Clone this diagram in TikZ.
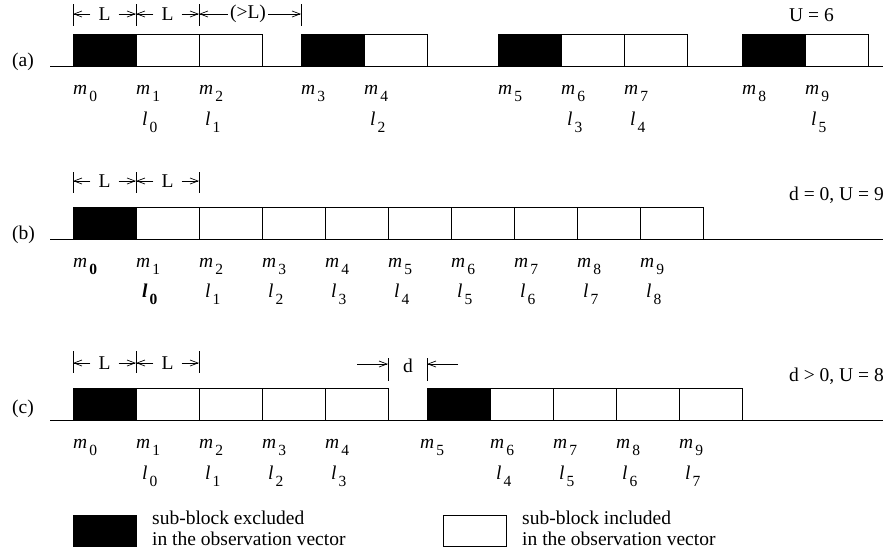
\documentclass[tikz,border=0pt]{standalone}
\usepackage{fontspec}
\setmainfont{Liberation Serif}
\usetikzlibrary{arrows.meta}
\newcommand{\ms}[2]{\textit{#1}\kern2pt\raisebox{-7pt}{\fontsize{15.5}{15.5}\selectfont #2}}
\tikzset{
  boxbase/.style={draw, minimum width=63pt, minimum height=31.5pt, inner sep=0pt, outer sep=0pt, anchor=south west, line width=0.9pt},
  blk/.style={boxbase, fill=black},
  wht/.style={boxbase, fill=white},
  lab/.style={inner sep=0pt, anchor=base west},
  dimtxt/.style={inner ysep=0pt, inner xsep=8pt},
  dimarr/.style={-{Straight Barb[length=8pt,width=6pt]}, line width=0.7pt},
  tickline/.style={line width=0.8pt},
  axis/.style={line width=0.9pt},
}
\begin{document}
\begin{tikzpicture}[x=1pt,y=-1pt,font=\fontsize{19.5}{22}\selectfont]
\useasboundingbox (0,0) rectangle (883,554);

% ---------------- row (a) ----------------
\node[anchor=west,inner sep=0pt] (la) at (12,62) {(a)};
\node[anchor=west,inner sep=0pt] (ua) at (789,15) {U = 6};
\draw[axis] (50,66) -- (883,66);
\node[blk] (a0) at (73,66) {};
\node[wht] (a1) at (136,66) {};
\node[wht] (a2) at (199,66) {};
\node[blk] (a3) at (301,66) {};
\node[wht] (a4) at (364,66) {};
\node[blk] (a5) at (498,66) {};
\node[wht] (a6) at (561,66) {};
\node[wht] (a7) at (624,66) {};
\node[blk] (a8) at (742,66) {};
\node[wht] (a9) at (805,66) {};
\foreach \x/\i in {73/0,136/1,199/2,301/3,364/4,498/5,561/6,624/7,742/8,805/9}
  \node[lab] (am\i) at (\x,94.5) {\ms{m}{\i}};
\foreach \x/\i in {142/0,205/1,370/2,567/3,630/4,811/5}
  \node[lab] (al\i) at (\x,125) {\ms{l}{\i}};
% dimensions (a)
\foreach \x/\i in {73/0,136/1,199/2,301/3}{
  \draw[tickline] (\x,4) -- (\x,26);
  \coordinate (ta\i) at (\x,14);
}
\node[dimtxt] (aL1) at (104.5,14) {L};
\node[dimtxt] (aL2) at (167.5,14) {L};
\node[dimtxt,inner xsep=2pt] (aL3) at (248,14) {(>L)};
\draw[dimarr] (aL1.west) -- (ta0);
\draw[dimarr] (aL1.east) -- (ta1);
\draw[dimarr] (aL2.west) -- (ta1);
\draw[dimarr] (aL2.east) -- (ta2);
\draw[dimarr] (aL3.west) -- (ta2);
\draw[dimarr] (aL3.east) -- (ta3);

% ---------------- row (b) ----------------
\node[anchor=west,inner sep=0pt] (lb) at (12,235) {(b)};
\node[anchor=west,inner sep=0pt] (ub) at (789,195) {d = 0, U = 9};
\draw[axis] (50,239) -- (883,239);
\node[blk] (b0) at (73,239) {};
\foreach \i in {1,...,9}
  \node[wht] (b\i) at ({73+63*\i},239) {};
\node[lab] (bm0) at (73,267.5) {\ms{m}{\bfseries 0}};
\foreach \i in {1,...,9}
  \node[lab] (bm\i) at ({73+63*\i},267.5) {\ms{m}{\i}};
\node[lab] (bl0) at (142,297.5) {\bfseries\ms{l}{0}};
\foreach \i in {1,...,8}
  \node[lab] (bl\i) at ({142+63*\i},297.5) {\ms{l}{\i}};
% dimensions (b)
\foreach \x/\i in {73/0,136/1,199/2}{
  \draw[tickline] (\x,172) -- (\x,193);
  \coordinate (tb\i) at (\x,181);
}
\node[dimtxt] (bL1) at (104.5,181) {L};
\node[dimtxt] (bL2) at (167.5,181) {L};
\draw[dimarr] (bL1.west) -- (tb0);
\draw[dimarr] (bL1.east) -- (tb1);
\draw[dimarr] (bL2.west) -- (tb1);
\draw[dimarr] (bL2.east) -- (tb2);

% ---------------- row (c) ----------------
\node[anchor=west,inner sep=0pt] (lc) at (12,409) {(c)};
\node[anchor=west,inner sep=0pt] (uc) at (789,376) {d > 0, U = 8};
\draw[axis] (50,420) -- (883,420);
\node[blk] (c0) at (73,420) {};
\node[wht] (c1) at (136,420) {};
\node[wht] (c2) at (199,420) {};
\node[wht] (c3) at (262,420) {};
\node[wht] (c4) at (325,420) {};
\node[blk] (c5) at (427,420) {};
\node[wht] (c6) at (490,420) {};
\node[wht] (c7) at (553,420) {};
\node[wht] (c8) at (616,420) {};
\node[wht] (c9) at (679,420) {};
\foreach \x/\i in {73/0,136/1,199/2,262/3,325/4,420/5,490/6,553/7,616/8,679/9}
  \node[lab] (cm\i) at (\x,448.5) {\ms{m}{\i}};
\foreach \x/\i in {142/0,205/1,268/2,331/3,496/4,559/5,622/6,685/7}
  \node[lab] (cl\i) at (\x,479) {\ms{l}{\i}};
% dimensions (c)
\foreach \x/\i in {73/0,136/1,199/2}{
  \draw[tickline] (\x,351) -- (\x,373);
  \coordinate (tc\i) at (\x,363);
}
\node[dimtxt] (cL1) at (104.5,363) {L};
\node[dimtxt] (cL2) at (167.5,363) {L};
\draw[dimarr] (cL1.west) -- (tc0);
\draw[dimarr] (cL1.east) -- (tc1);
\draw[dimarr] (cL2.west) -- (tc1);
\draw[dimarr] (cL2.east) -- (tc2);
% gap d
\draw[tickline] (388,358) -- (388,381);
\draw[tickline] (427,358) -- (427,381);
\coordinate (dl) at (388,364);
\coordinate (dr) at (427,364);
\coordinate (dls) at (357,364);
\coordinate (drs) at (458,364);
\node[inner sep=0pt] (dtxt) at (408,366) {d};
\draw[dimarr] (dls) -- (dl);
\draw[dimarr] (drs) -- (dr);

% ---------------- legend ----------------
\node[blk,minimum height=31pt] (legb) at (73,546) {};
\node[lab] (legbt1) at (152,524) {sub-block excluded};
\node[lab] (legbt2) at (152,545) {in the observation vector};
\node[wht,minimum height=31pt] (legw) at (443,546) {};
\node[lab] (legwt1) at (522,524) {sub-block included};
\node[lab] (legwt2) at (522,545) {in the observation vector};
\end{tikzpicture}
\end{document}
